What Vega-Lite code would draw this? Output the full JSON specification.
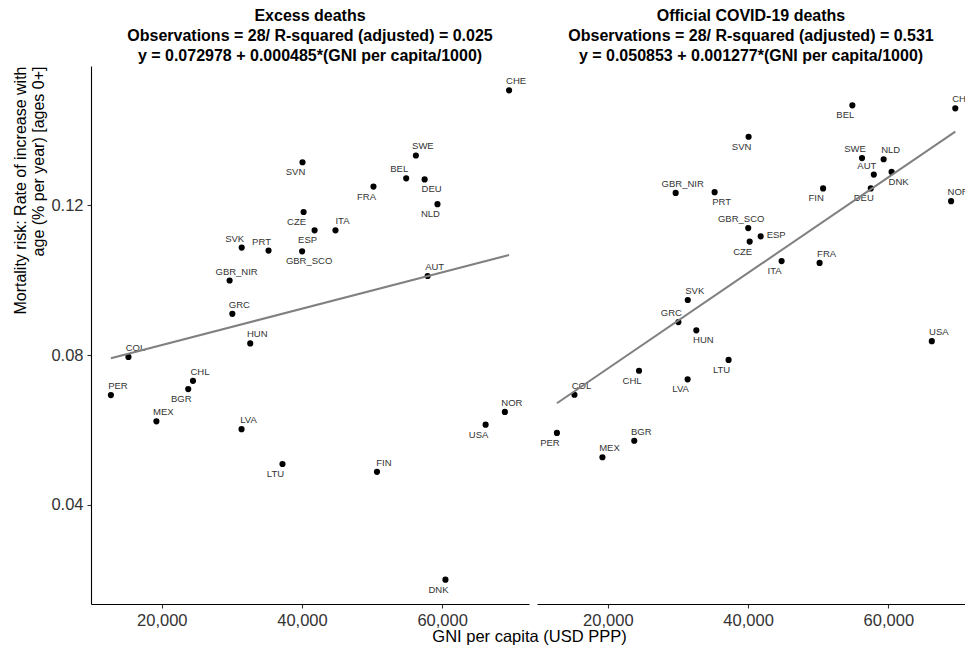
{
  "$schema": "https://vega.github.io/schema/vega-lite/v6.json",
  "padding": {"left": 12, "top": 8, "right": 0, "bottom": 0},
  "bounds": "flush",
  "spacing": 8,
  "background": "white",
  "datasets": {
    "pts": [
      {"country": "CHE", "gni": 69550, "excess": 0.1507, "official": 0.1459, "le": "ne", "lo": "ne"},
      {"country": "SWE", "gni": 56250, "excess": 0.1333, "official": 0.1326, "le": "ne", "lo": "nw"},
      {"country": "SVN", "gni": 40075, "excess": 0.1315, "official": 0.1383, "le": "sw", "lo": "sw"},
      {"country": "BEL", "gni": 54870, "excess": 0.1272, "official": 0.1467, "le": "nw", "lo": "sw"},
      {"country": "DEU", "gni": 57500, "excess": 0.1269, "official": 0.1245, "le": "se", "lo": "sw"},
      {"country": "FRA", "gni": 50200, "excess": 0.1250, "official": 0.1046, "le": "sw", "lo": "ne"},
      {"country": "NLD", "gni": 59330, "excess": 0.1203, "official": 0.1323, "le": "sw", "lo": "ne"},
      {"country": "CZE", "gni": 40230, "excess": 0.1182, "official": 0.1103, "le": "sw", "lo": "sw"},
      {"country": "ITA", "gni": 44780, "excess": 0.1133, "official": 0.1051, "le": "ne", "lo": "sw"},
      {"country": "ESP", "gni": 41800, "excess": 0.1133, "official": 0.1117, "le": "sw", "lo": "e"},
      {"country": "GBR_SCO", "gni": 40020, "excess": 0.1077, "official": 0.1139, "le": "se", "lo": "nw"},
      {"country": "AUT", "gni": 57930, "excess": 0.1011, "official": 0.1282, "le": "ne", "lo": "nw"},
      {"country": "SVK", "gni": 31400, "excess": 0.1087, "official": 0.0947, "le": "nw", "lo": "ne"},
      {"country": "PRT", "gni": 35230, "excess": 0.1079, "official": 0.1235, "le": "nw", "lo": "se"},
      {"country": "GBR_NIR", "gni": 29675, "excess": 0.0999, "official": 0.1233, "le": "ne", "lo": "ne"},
      {"country": "GRC", "gni": 30065, "excess": 0.0910, "official": 0.0888, "le": "ne", "lo": "nw"},
      {"country": "HUN", "gni": 32620, "excess": 0.0831, "official": 0.0866, "le": "ne", "lo": "se"},
      {"country": "COL", "gni": 15240, "excess": 0.0795, "official": 0.0694, "le": "ne", "lo": "ne"},
      {"country": "CHL", "gni": 24450, "excess": 0.0731, "official": 0.0758, "le": "ne", "lo": "sw"},
      {"country": "BGR", "gni": 23770, "excess": 0.0709, "official": 0.0571, "le": "sw", "lo": "ne"},
      {"country": "PER", "gni": 12740, "excess": 0.0693, "official": 0.0592, "le": "ne", "lo": "sw"},
      {"country": "MEX", "gni": 19230, "excess": 0.0623, "official": 0.0527, "le": "ne", "lo": "ne"},
      {"country": "LVA", "gni": 31380, "excess": 0.0602, "official": 0.0735, "le": "ne", "lo": "sw"},
      {"country": "LTU", "gni": 37220, "excess": 0.0509, "official": 0.0787, "le": "sw", "lo": "sw"},
      {"country": "NOR", "gni": 68950, "excess": 0.0648, "official": 0.1211, "le": "ne", "lo": "ne"},
      {"country": "USA", "gni": 66200, "excess": 0.0614, "official": 0.0837, "le": "sw", "lo": "ne"},
      {"country": "FIN", "gni": 50700, "excess": 0.0488, "official": 0.1245, "le": "ne", "lo": "sw"},
      {"country": "DNK", "gni": 60470, "excess": 0.0200, "official": 0.1289, "le": "sw", "lo": "se"}
    ],
    "fit_ex": [
      {"gni": 12740, "excess": 0.079157},
      {"gni": 69550, "excess": 0.106709}
    ],
    "fit_off": [
      {"gni": 12740, "official": 0.067122},
      {"gni": 69550, "official": 0.139668}
    ]
  },
  "config": {
    "font": "Liberation Sans",
    "view": {"stroke": null},
    "axis": {
      "domainColor": "#000000", "domainWidth": 1.1, "tickColor": "#333333", "tickSize": 4, "tickWidth": 1.1,
      "labelFontSize": 16.5, "labelColor": "#333333", "labelFont": "Liberation Sans", "labelPadding": 4,
      "titleFontSize": 16.5, "titleColor": "#000000", "titleFontWeight": "normal", "titleFont": "Liberation Sans",
      "grid": false
    },
    "title": {"fontSize": 16, "fontWeight": "bold", "lineHeight": 20, "color": "#000000", "anchor": "middle", "offset": 2, "font": "Liberation Sans"}
  },
  "hconcat": [
    {
      "width": 438,
      "height": 538,
      "title": {"text": ["Excess deaths", "Observations = 28/ R-squared (adjusted) = 0.025", "y = 0.072978 + 0.000485*(GNI per capita/1000)"]},
      "data": {"name": "pts"},
      "layer": [
        {
          "mark": {"type": "point", "filled": true, "size": 38, "color": "#000000", "opacity": 1},
          "encoding": {
            "x": {"field": "gni", "type": "quantitative", "scale": {"domain": [9900, 72390], "nice": false, "zero": false},
                  "axis": {"values": [20000, 40000, 60000], "format": ",.0f", "title": "GNI per capita (USD PPP)", "titleX": 438, "titleY": 37, "titleAlign": "center", "titleBaseline": "alphabetic"}},
            "y": {"field": "excess", "type": "quantitative", "scale": {"domain": [0.0135, 0.1572], "nice": false, "zero": false},
                  "axis": {"values": [0.04, 0.08, 0.12], "format": ".2f", "title": ["Mortality risk: Rate of increase with", "age (% per year) [ages 0+]"], "titleFontSize": 16, "titleLineHeight": 18, "titlePadding": 4, "titleAnchor": "end"}}
          }
        },
        {
          "transform": [{"filter": "datum.le == 'ne'"}],
          "mark": {"type": "text", "dx": 7, "dy": -9, "align": "center", "baseline": "middle", "fontSize": 9.5, "color": "#333333"},
          "encoding": {"x": {"field": "gni", "type": "quantitative"}, "y": {"field": "excess", "type": "quantitative"}, "text": {"field": "country"}}
        },
        {
          "transform": [{"filter": "datum.le == 'nw'"}],
          "mark": {"type": "text", "dx": -7, "dy": -9, "align": "center", "baseline": "middle", "fontSize": 9.5, "color": "#333333"},
          "encoding": {"x": {"field": "gni", "type": "quantitative"}, "y": {"field": "excess", "type": "quantitative"}, "text": {"field": "country"}}
        },
        {
          "transform": [{"filter": "datum.le == 'se'"}],
          "mark": {"type": "text", "dx": 7, "dy": 10, "align": "center", "baseline": "middle", "fontSize": 9.5, "color": "#333333"},
          "encoding": {"x": {"field": "gni", "type": "quantitative"}, "y": {"field": "excess", "type": "quantitative"}, "text": {"field": "country"}}
        },
        {
          "transform": [{"filter": "datum.le == 'sw'"}],
          "mark": {"type": "text", "dx": -7, "dy": 10, "align": "center", "baseline": "middle", "fontSize": 9.5, "color": "#333333"},
          "encoding": {"x": {"field": "gni", "type": "quantitative"}, "y": {"field": "excess", "type": "quantitative"}, "text": {"field": "country"}}
        },
        {
          "data": {"name": "fit_ex"},
          "mark": {"type": "line", "color": "#808080", "strokeWidth": 2},
          "encoding": {"x": {"field": "gni", "type": "quantitative"}, "y": {"field": "excess", "type": "quantitative"}}
        }
      ]
    },
    {
      "width": 428,
      "height": 538,
      "title": {"text": ["Official COVID-19 deaths", "Observations = 28/ R-squared (adjusted) = 0.531", "y = 0.050853 + 0.001277*(GNI per capita/1000)"]},
      "data": {"name": "pts"},
      "layer": [
        {
          "mark": {"type": "point", "filled": true, "size": 38, "color": "#000000", "opacity": 1},
          "encoding": {
            "x": {"field": "gni", "type": "quantitative", "scale": {"domain": [9900, 70934], "nice": false, "zero": false},
                  "axis": {"values": [20000, 40000, 60000], "format": ",.0f", "title": null}},
            "y": {"field": "official", "type": "quantitative", "scale": {"domain": [0.0135, 0.1572], "nice": false, "zero": false}, "axis": null}
          }
        },
        {
          "transform": [{"filter": "datum.lo == 'ne'"}],
          "mark": {"type": "text", "dx": 7, "dy": -9, "align": "center", "baseline": "middle", "fontSize": 9.5, "color": "#333333", "clip": true},
          "encoding": {"x": {"field": "gni", "type": "quantitative"}, "y": {"field": "official", "type": "quantitative"}, "text": {"field": "country"}}
        },
        {
          "transform": [{"filter": "datum.lo == 'nw'"}],
          "mark": {"type": "text", "dx": -7, "dy": -9, "align": "center", "baseline": "middle", "fontSize": 9.5, "color": "#333333", "clip": true},
          "encoding": {"x": {"field": "gni", "type": "quantitative"}, "y": {"field": "official", "type": "quantitative"}, "text": {"field": "country"}}
        },
        {
          "transform": [{"filter": "datum.lo == 'se'"}],
          "mark": {"type": "text", "dx": 7, "dy": 10, "align": "center", "baseline": "middle", "fontSize": 9.5, "color": "#333333", "clip": true},
          "encoding": {"x": {"field": "gni", "type": "quantitative"}, "y": {"field": "official", "type": "quantitative"}, "text": {"field": "country"}}
        },
        {
          "transform": [{"filter": "datum.lo == 'sw'"}],
          "mark": {"type": "text", "dx": -7, "dy": 10, "align": "center", "baseline": "middle", "fontSize": 9.5, "color": "#333333", "clip": true},
          "encoding": {"x": {"field": "gni", "type": "quantitative"}, "y": {"field": "official", "type": "quantitative"}, "text": {"field": "country"}}
        },
        {
          "transform": [{"filter": "datum.lo == 'e'"}],
          "mark": {"type": "text", "dx": 6, "dy": -1, "align": "left", "baseline": "middle", "fontSize": 9.5, "color": "#333333", "clip": true},
          "encoding": {"x": {"field": "gni", "type": "quantitative"}, "y": {"field": "official", "type": "quantitative"}, "text": {"field": "country"}}
        },
        {
          "data": {"name": "fit_off"},
          "mark": {"type": "line", "color": "#808080", "strokeWidth": 2},
          "encoding": {"x": {"field": "gni", "type": "quantitative"}, "y": {"field": "official", "type": "quantitative"}}
        }
      ]
    }
  ]
}
